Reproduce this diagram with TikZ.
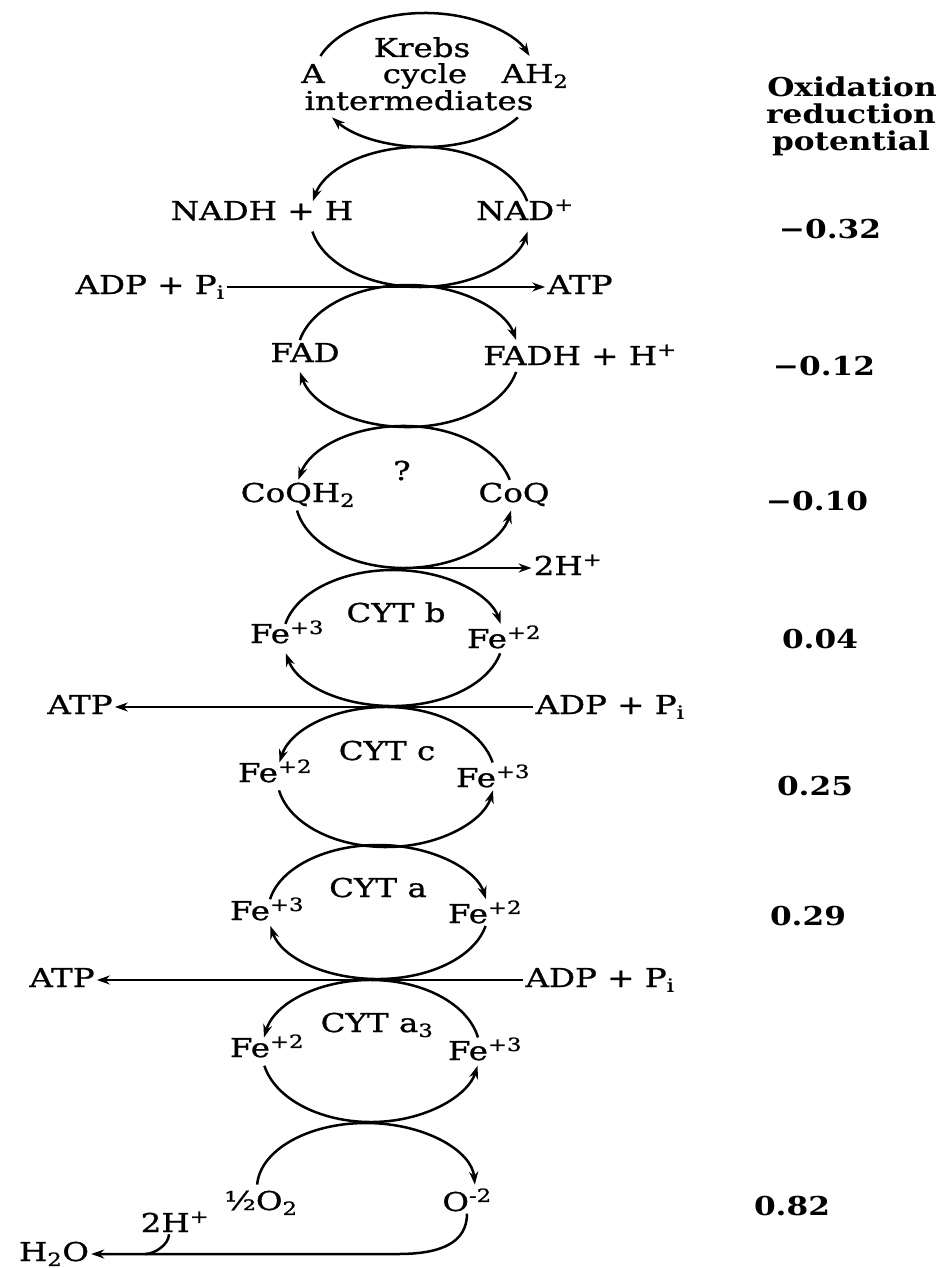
\documentclass[tikz,border=0pt]{standalone}
\usepackage{fontspec}
\setmainfont{DejaVu Serif}
\newfontfamily\chemfont{DejaVu Serif}[FakeStretch=1.25,FakeBold=1]
\newfontfamily\potfont{DejaVu Serif Bold}[FakeStretch=1.2]
\newcommand*{\chemsize}{\fontsize{26}{30}\selectfont}
\usetikzlibrary{arrows.meta}

\begin{document}
\begin{tikzpicture}[x=1pt,y=1pt,>={Stealth[length=13pt,width=9pt]}]

\useasboundingbox (0,0) rectangle (942,-1268);

% one redox pair: name, cx, cy, x radius, y radius, upper gap, lower gap, cw/ccw
\newcommand*{\redox}[8]{
\coordinate (#1) at (#2,#3);
\coordinate (#1-top) at (#2,#3+#5);
\coordinate (#1-bot) at (#2,#3-#5);
\draw [ring,#8 upper] ([shift={({180-#6}:#4 and #5)}]#1)
      arc [start angle=180-#6, end angle=#6, x radius=#4, y radius=#5];
\draw [ring,#8 lower] ([shift={({180+#7}:#4 and #5)}]#1)
      arc [start angle=180+#7, end angle=360-#7, x radius=#4, y radius=#5];
}

\tikzstyle {ring}=[line width=2.5pt];
\tikzstyle {cw upper}=[->];
\tikzstyle {cw lower}=[<-];
\tikzstyle {ccw upper}=[<-];
\tikzstyle {ccw lower}=[->];

\tikzstyle {chem}=[font=\chemfont\chemsize, inner sep=2pt, anchor=base];
\tikzstyle {potl}=[font=\potfont\chemsize, inner sep=2pt, anchor=base];

% Krebs cycle
\redox{cyc1}{425}{-80}{112}{67}{21}{34}{cw}
\draw (422,-57) node [chem] (krebs) {Krebs};
\draw (425,-83) node [chem] (cycle) {cycle};
\draw (313,-83) node [chem] (a) {A};
\draw (535,-83) node [chem] (ah2) {AH\textsubscript{2}};
\draw (419,-110) node [chem] (interm) {intermediates};

% NAD
\redox{cyc2}{420}{-217}{110}{70}{13}{12}{ccw}
\draw (262,-220) node [chem] (nadh) {NADH + H};
\draw (525,-220) node [chem] (nadp) {NAD\textsuperscript{+}};

\draw (150,-294) node [chem] (adp1) {ADP + P\textsubscript{i}};
\draw (580,-294) node [chem] (atp1) {ATP};
\draw [ring,->] ([yshift=7]adp1.base east) -- ([yshift=7]atp1.base west);

% FAD
\redox{cyc3}{408}{-356}{111}{71}{13}{13}{cw}
\draw (305,-362) node [chem] (fad) {FAD};
\draw (580,-365) node [chem] (fadh) {FADH + H\textsuperscript{+}};

% CoQ
\redox{cyc4}{404}{-497}{109}{71}{14}{11}{ccw}
\draw (402,-480) node [chem] (quest) {?};
\draw (298,-502) node [chem] (coqh) {CoQH\textsubscript{2}};
\draw (514,-502) node [chem] (coq) {CoQ};

\draw (568,-575) node [chem] (hplus) {2H\textsuperscript{+}};
\draw [ring,->] (cyc4-bot) -- ([yshift=7]hplus.base west);

% CYT b
\redox{cyc5}{393}{-638}{110}{68}{12}{13}{cw}
\draw (396,-622) node [chem] (cytb) {CYT b};
\draw (287,-643) node [chem] (fe3b) {Fe\textsuperscript{+3}};
\draw (504,-648) node [chem] (fe2b) {Fe\textsuperscript{+2}};

\draw (610,-714) node [chem] (adp2) {ADP + P\textsubscript{i}};
\draw (80,-714) node [chem] (atp2) {ATP};
\draw [ring,->] ([yshift=7]adp2.base west) -- ([yshift=7]atp2.base east);

% CYT c
\redox{cyc6}{386}{-777}{109}{70}{12}{11}{ccw}
\draw (387,-760) node [chem] (cytc) {CYT c};
\draw (275,-782) node [chem] (fe2c) {Fe\textsuperscript{+2}};
\draw (493,-787) node [chem] (fe3c) {Fe\textsuperscript{+3}};

% CYT a
\redox{cyc7}{378}{-912}{110}{67}{11}{12}{cw}
\draw (378,-897) node [chem] (cyta) {CYT a};
\draw (267,-920) node [chem] (fe3a) {Fe\textsuperscript{+3}};
\draw (485,-923) node [chem] (fe2a) {Fe\textsuperscript{+2}};

\draw (600,-987) node [chem] (adp3) {ADP + P\textsubscript{i}};
\draw (62,-987) node [chem] (atp3) {ATP};
\draw [ring,->] ([yshift=7]adp3.base west) -- ([yshift=7]atp3.base east);

% CYT a3
\redox{cyc8}{371}{-1051}{109}{71}{11}{12}{ccw}
\draw (377,-1032) node [chem] (cyta3) {CYT a\textsubscript{3}};
\draw (267,-1057) node [chem] (fe2d) {Fe\textsuperscript{+2}};
\draw (485,-1060) node [chem] (fe3d) {Fe\textsuperscript{+3}};

% Oxygen
\coordinate (cyc9) at (366,-1188);
\draw [ring,->] ([shift={(177:109 and 65)}]cyc9)
      arc [start angle=177, end angle=3, x radius=109, y radius=65];
\draw (261,-1210) node [chem] (o2) {½O\textsubscript{2}};
\draw (467,-1211) node [chem] (om2) {O\textsuperscript{-2}};

% Water
\draw (54,-1261) node [chem] (h2o) {H\textsubscript{2}O};
\draw (175,-1232) node [chem] (hplus2) {2H\textsuperscript{+}};
\coordinate (turn) at (398,-1254);
\coordinate (join) at ([xshift=-30]hplus2.south |- turn);
\draw [ring,->] (om2.south) .. controls +(0,-28) and +(45,0) .. (turn)
      -- ([yshift=7]h2o.base east);
\draw [ring] ([xshift=-6]hplus2.south) .. controls +(0,-10) and +(10,0) .. (join);

% Oxidation reduction potential
\draw (852,-97) node [potl] (ox) {Oxidation};
\draw (851,-124) node [potl] (red) {reduction};
\draw (851,-151) node [potl] (pot) {potential};

\draw (830,-238) node [potl] (v1) {−0.32};
\draw (824,-375) node [potl] (v2) {−0.12};
\draw (817,-510) node [potl] (v3) {−0.10};
\draw (820,-648) node [potl] (v4) {0.04};
\draw (815,-795) node [potl] (v5) {0.25};
\draw (808,-925) node [potl] (v6) {0.29};
\draw (792,-1215) node [potl] (v7) {0.82};
\end{tikzpicture}
\end{document}
